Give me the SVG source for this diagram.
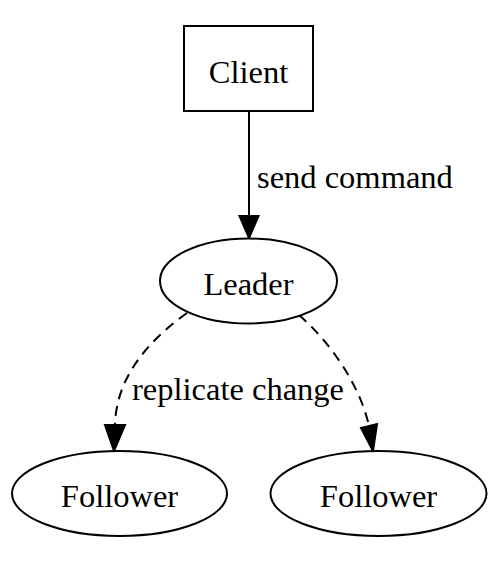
<svg xmlns="http://www.w3.org/2000/svg" width="504" height="563" viewBox="0 0 504 563">
<style>
.shape{fill:#fff;stroke:#000;stroke-width:2}
.lbl{font-family:"Liberation Serif","Times New Roman",serif;font-size:32.5px;fill:#000}
.edge{fill:none;stroke:#000;stroke-width:2}
.dash{stroke-dasharray:10,7}
.head{fill:#000;stroke:#000;stroke-width:2}
</style>
<rect width="504" height="563" fill="#fff"/>
<g id="edges">
<g id="e_client_leader">
<path class="edge" d="M249,111 L249,216"/>
<polygon class="head" points="239.5,216 258.5,216 249,238"/>
<text class="lbl" x="257" y="188">send command</text>
</g>
<g id="e_leader_follower1">
<path class="edge dash" d="M187,313 C145,343 116,380 115,425"/>
<polygon class="head" points="105,425 125,425 114,451"/>
<text class="lbl" x="238" y="400" text-anchor="middle">replicate change</text>
</g>
<g id="e_leader_follower2">
<path class="edge dash" d="M299,315 C330,342 360,385 369,426"/>
<polygon class="head" points="361,428 377,424 373,451"/>
</g>
</g>
<g id="client">
<rect class="shape" x="184" y="26" width="129" height="85"/>
<text class="lbl" x="248.5" y="83" text-anchor="middle">Client</text>
</g>
<g id="leader">
<ellipse class="shape" cx="248.5" cy="281" rx="88.5" ry="42.5"/>
<text class="lbl" x="248.5" y="295" text-anchor="middle">Leader</text>
</g>
<g id="follower1">
<ellipse class="shape" cx="119.5" cy="493.5" rx="107.5" ry="42.5"/>
<text class="lbl" x="119.5" y="507" text-anchor="middle">Follower</text>
</g>
<g id="follower2">
<ellipse class="shape" cx="378.5" cy="493.5" rx="108" ry="42.5"/>
<text class="lbl" x="378.5" y="507" text-anchor="middle">Follower</text>
</g>
</svg>
